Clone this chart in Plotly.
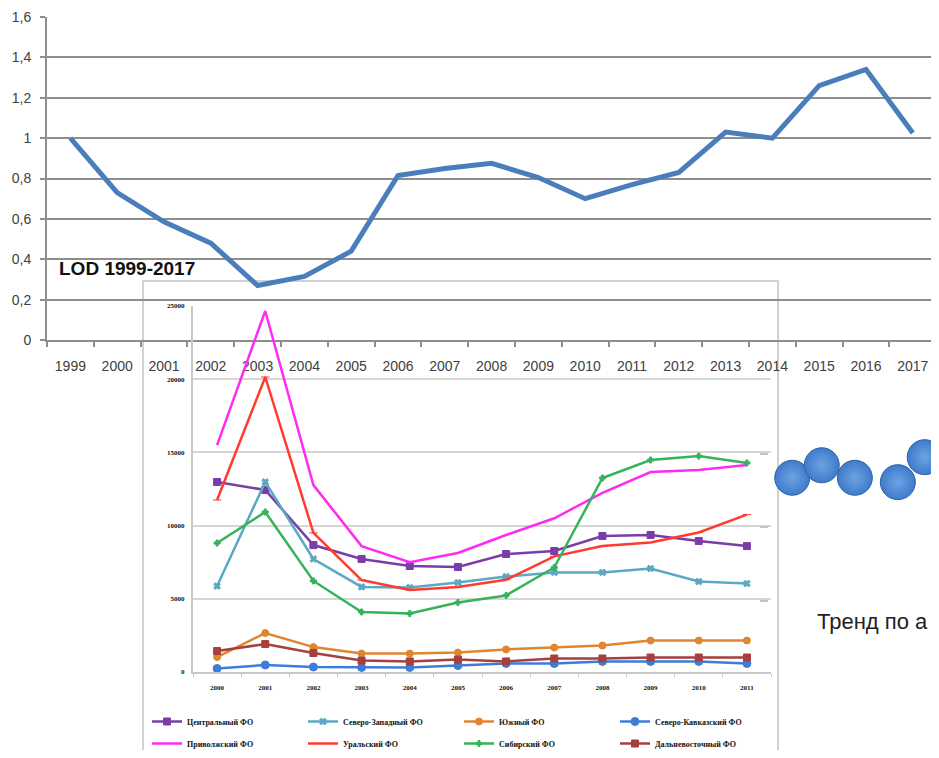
import plotly.graph_objects as go

# the page body adds an 8px margin on every side; the figure is sized so the
# whole page is exactly 939x758 and nothing gets rescaled
OFF = 8
W, H = 939 - 2 * OFF, 758 - 2 * OFF

# ---- top chart: LOD 1999-2017 ----
lod_years = [str(y) for y in range(1999, 2018)]
lod_values = [1.0, 0.73, 0.585, 0.48, 0.27, 0.315, 0.44, 0.815, 0.85, 0.875,
              0.805, 0.70, 0.77, 0.83, 1.03, 1.0, 1.26, 1.34, 1.025]

# ---- inset chart: federal districts 2000-2011 ----
region_years = [str(y) for y in range(2000, 2012)]
central = [12980, 12430, 8670, 7720, 7240, 7170, 8060, 8265, 9290, 9360, 8950, 8600]
northwest = [5870, 12980, 7720, 5810, 5770, 6110, 6520, 6800, 6800, 7070, 6180, 6040]
south = [1020, 2660, 1700, 1260, 1260, 1330, 1540, 1670, 1810, 2150, 2150, 2150]
ncaucasus = [240, 480, 340, 310, 310, 440, 580, 580, 720, 720, 720, 580]
volga = [15500, 24660, 12770, 8600, 7500, 8130, 9360, 10500, 12230, 13660, 13800, 14140]
ural = [11750, 20150, 9500, 6280, 5600, 5800, 6300, 7900, 8600, 8850, 9530, 10750]
siberia = [8810, 10930, 6220, 4100, 4000, 4750, 5230, 7140, 13250, 14480, 14750, 14280]
fareast = [1430, 1910, 1300, 780, 720, 850, 720, 920, 920, 990, 990, 990]

region_names = ["Центральный ФО", "Северо-Западный ФО", "Южный ФО", "Северо-Кавказский ФО",
                "Приволжский ФО", "Уральский ФО", "Сибирский ФО", "Дальневосточный ФО"]

# ---- bubble fragment on the right ----
bubble_x = [1.8, 3.45, 5.3, 7.7, 9.2, 10.6]
bubble_y = [2.67, 2.84, 2.67, 2.61, 2.95, 3.43]

trend_text = "Тренд по а"
lod_title = "LOD 1999-2017"


def px(x):
    return (x - OFF) / W


def py(y):
    return 1 - (y - OFF) / H


fig = go.Figure()

fig.add_trace(go.Scatter(x=lod_years, y=lod_values, mode="lines",
                         line=dict(color="#4A7EBB", width=5), showlegend=False,
                         xaxis="x", yaxis="y"))

styles = [
    dict(color="#7A3DA8", symbol="square", size=7, mode="lines+markers", legend="legend"),
    dict(color="#5AA8C4", symbol="x", size=6, mode="lines+markers", legend="legend"),
    dict(color="#E0862E", symbol="circle", size=7, mode="lines+markers", legend="legend"),
    dict(color="#3C7DD9", symbol="circle", size=8, mode="lines+markers", legend="legend"),
    dict(color="#FF2BF2", symbol="line-ew", size=5, mode="lines", legend="legend2"),
    dict(color="#FF3B2F", symbol="line-ew-open", size=6, mode="lines+markers", legend="legend2"),
    dict(color="#35B35A", symbol="cross", size=5, mode="lines+markers", legend="legend2"),
    dict(color="#A5403E", symbol="square", size=7, mode="lines+markers", legend="legend2"),
]
series = [central, northwest, south, ncaucasus, volga, ural, siberia, fareast]

for name, vals, st in zip(region_names, series, styles):
    fig.add_trace(go.Scatter(
        x=region_years, y=vals, name=name, mode=st["mode"],
        line=dict(color=st["color"], width=2.5),
        marker=dict(color=st["color"], symbol=st["symbol"], size=st["size"],
                    line=dict(color=st["color"], width=1)),
        legend=st["legend"], xaxis="x2", yaxis="y2"))

fig.add_trace(go.Scatter(
    x=bubble_x, y=bubble_y, mode="markers", showlegend=False,
    marker=dict(size=35, color="#3F7BCB",
                gradient=dict(type="radial", color="#6EA2E4"),
                line=dict(color="#2F62A6", width=1)),
    xaxis="x3", yaxis="y3", cliponaxis=True))

grid_dark = "#8E8E8E"
grid_light = "#D6D6D6"
legend_font = dict(size=8, color="#111111", family="Liberation Serif", weight="bold")

# top chart: axis line at x=47, 46.8px per year
top_x0, top_step = 47, 46.8
top_x_end = (939 - OFF - top_x0) / top_step - 0.5

# bubble chart: 17.9px per unit starting at x=760
bub_x0, bub_step = 760, 17.9
bub_x_end = (939 - OFF - bub_x0) / bub_step

fig.update_layout(
    width=W, height=H,
    margin=dict(l=0, r=0, t=0, b=0, autoexpand=False),
    paper_bgcolor="white", plot_bgcolor="rgba(0,0,0,0)",
    separators=", ",
    font=dict(family="Liberation Sans", color="#404040"),
    xaxis=dict(domain=[px(top_x0), 1], anchor="y", type="category",
               range=[-0.5, top_x_end], showgrid=False, zeroline=False,
               showline=True, linecolor=grid_dark, linewidth=2,
               ticks="outside", tickson="boundaries", ticklen=5,
               tickcolor=grid_dark, tickwidth=2,
               tickfont=dict(size=14, color="#404040"),
               ticklabelstandoff=12, automargin=False),
    yaxis=dict(domain=[py(340), py(17)], anchor="x", range=[0, 1.6], dtick=0.2,
               showgrid=True, gridcolor=grid_dark, gridwidth=2, zeroline=False,
               showline=True, linecolor=grid_dark, linewidth=2,
               ticks="outside", ticklen=5, tickcolor=grid_dark, tickwidth=2,
               tickfont=dict(size=14, color="#404040"),
               ticklabelstandoff=6, automargin=False),
    xaxis2=dict(domain=[px(193), px(771)], anchor="y2", type="category",
                range=[-0.5, 11.5], showgrid=False, zeroline=False,
                showline=True, linecolor="#C8C8C8", linewidth=2,
                ticks="outside", tickson="boundaries", ticklen=3,
                tickcolor="#C8C8C8", tickwidth=1,
                tickfont=dict(size=7, color="#111111", family="Liberation Serif", weight="bold"),
                ticklabelstandoff=8, automargin=False),
    yaxis2=dict(domain=[py(672), py(306)], anchor="x2", range=[0, 25000], dtick=5000,
                tickformat="d", showgrid=True, gridcolor=grid_light, gridwidth=2,
                zeroline=False, showline=True, linecolor="#C8C8C8", linewidth=2,
                ticks="", tickfont=dict(size=7, color="#111111", family="Liberation Serif", weight="bold"),
                ticklabelstandoff=5, automargin=False),
    xaxis3=dict(domain=[px(bub_x0), 1], anchor="y3", range=[0, bub_x_end], visible=False),
    yaxis3=dict(domain=[py(674), py(380)], anchor="free", position=px(768),
                range=[0, 4], tickvals=[1, 2, 3], ticks="outside", ticklen=8,
                tickcolor="#C4C4C4", tickwidth=2, showticklabels=False,
                showgrid=False, zeroline=False, showline=False, automargin=False),
    legend=dict(orientation="h", x=px(147), y=py(707), xanchor="left", yanchor="top",
                entrywidth=111, entrywidthmode="pixels", bgcolor="rgba(0,0,0,0)",
                itemwidth=30, font=legend_font),
    legend2=dict(orientation="h", x=px(147), y=py(729), xanchor="left", yanchor="top",
                 entrywidth=111, entrywidthmode="pixels", bgcolor="rgba(0,0,0,0)",
                 itemwidth=30, font=legend_font),
    shapes=[
        dict(type="rect", xref="paper", yref="paper", x0=px(143), x1=px(778),
             y0=py(775), y1=py(281), line=dict(color="#D2D2D2", width=2),
             fillcolor="rgba(0,0,0,0)", layer="below"),
    ],
    annotations=[
        dict(text=f"<b>{lod_title}</b>", xref="paper", yref="paper", x=px(57), y=py(268),
             xanchor="left", yanchor="middle", showarrow=False,
             font=dict(size=19, color="#111111", family="Liberation Sans")),
        dict(text=trend_text, xref="paper", yref="paper", x=px(815), y=py(621),
             xanchor="left", yanchor="middle", showarrow=False,
             font=dict(size=22, color="#222222", family="Liberation Sans")),
    ],
)

fig.write_html("out.html")
